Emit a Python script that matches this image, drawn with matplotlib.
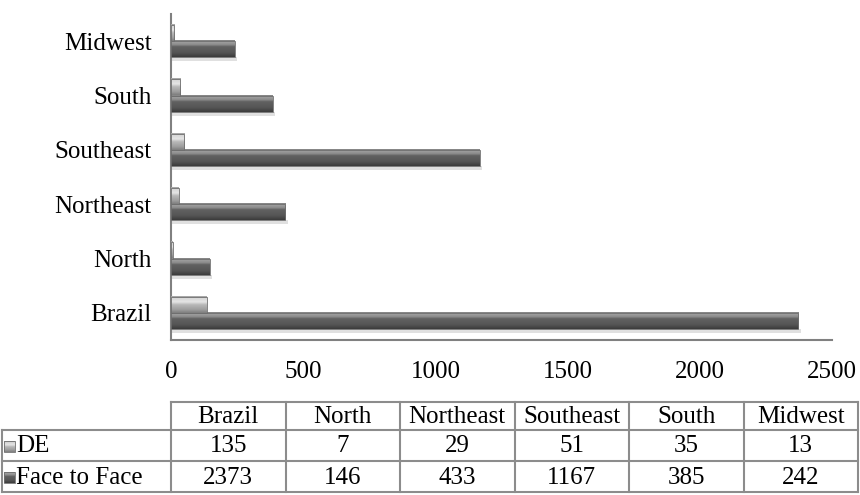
"""Face-to-face vs DE enrolments by region: 3D-style bars with a data table."""

import matplotlib

matplotlib.use("Agg")
import matplotlib.pyplot as plt  # noqa: E402
import numpy as np  # noqa: E402
from matplotlib.colors import LinearSegmentedColormap  # noqa: E402
from matplotlib.patches import Rectangle  # noqa: E402

# --- Data ---------------------------------------------------------------

regions = ["Brazil", "North", "Northeast", "Southeast", "South", "Midwest"]
de_values = [135, 7, 29, 51, 35, 13]
ftf_values = [2373, 146, 433, 1167, 385, 242]
series_names = ["DE", "Face to Face"]
x_ticks = [0, 500, 1000, 1500, 2000, 2500]

plt.rcParams["font.family"] = ["Liberation Serif", "DejaVu Serif"]
FS = 18
EDGE = "#8c8c8c"

# Vertical shading, top of bar -> bottom of bar
ftf_cmap = LinearSegmentedColormap.from_list(
    "ftf",
    [(0.0, "#7c7c7c"), (0.08, "#a2a2a2"), (0.28, "#8a8a8a"), (0.38, "#626262"),
     (0.75, "#555555"), (0.92, "#444444"), (1.0, "#3a3a3a")],
)
de_cmap = LinearSegmentedColormap.from_list(
    "de",
    [(0.0, "#9a9a9a"), (0.1, "#d6d6d6"), (0.35, "#e4e4e4"), (0.5, "#b9b9b9"),
     (0.8, "#9e9e9e"), (1.0, "#7e7e7e")],
)
grad = np.linspace(0, 1, 64).reshape(-1, 1)

W, H = 860, 495
fig = plt.figure(figsize=(W / 100, H / 100), dpi=100)


def px_axes(left, top, right, bottom):
    return fig.add_axes([left / W, 1 - bottom / H, (right - left) / W, (bottom - top) / H])


ax = px_axes(171, 14, 832, 340)

y = np.arange(len(regions))
bar_h = 0.3


def shaded_bars(centers, values, cmap):
    bars = ax.barh(centers, values, height=bar_h, color="none", edgecolor="none", zorder=3)
    for b in bars:
        x0, y0, w, h = b.get_x(), b.get_y(), b.get_width(), b.get_height()
        # soft drop shadow under the bar
        ax.add_patch(Rectangle((x0, y0 - 0.07), w + 8, 0.07, color="#d9d9d9",
                               alpha=0.8, lw=0, zorder=2))
        ax.imshow(grad, cmap=cmap, extent=(x0, x0 + w, y0, y0 + h), origin="upper",
                  aspect="auto", interpolation="bilinear", zorder=3)
        ax.add_patch(Rectangle((x0, y0), w, h, fill=False, edgecolor="#6e6e6e",
                               lw=0.6, zorder=4))


shaded_bars(y - bar_h / 2, ftf_values, ftf_cmap)
shaded_bars(y + bar_h / 2, de_values, de_cmap)

ax.set_xlim(0, 2500)
ax.set_ylim(-0.5, len(regions) - 0.5)
ax.set_xticks(x_ticks)
ax.set_yticks(y)
ax.set_yticklabels(regions)
ax.tick_params(axis="both", length=0, labelsize=FS)
ax.tick_params(axis="y", pad=14)
ax.tick_params(axis="x", pad=15)
for side in ("top", "right"):
    ax.spines[side].set_visible(False)
for side in ("left", "bottom"):
    ax.spines[side].set_color("#808080")
    ax.spines[side].set_linewidth(1.5)

# --- Data table below the chart ------------------------------------------

tab = px_axes(0, 0, W, H)
tab.set_xlim(0, W)
tab.set_ylim(H, 0)
tab.axis("off")

col_left, col_right = 171, 858
row_label_left = 2
row_edges = [402, 430, 461, 492]
col_w = (col_right - col_left) / len(regions)
lw = 1.5

# header row (no corner cell)
tab.plot([col_left, col_right], [row_edges[0]] * 2, color=EDGE, lw=lw)
for r in row_edges[1:]:
    tab.plot([row_label_left, col_right], [r, r], color=EDGE, lw=lw)
tab.plot([row_label_left] * 2, [row_edges[1], row_edges[3]], color=EDGE, lw=lw)
for i in range(len(regions) + 1):
    xe = col_left + i * col_w
    tab.plot([xe, xe], [row_edges[0], row_edges[3]], color=EDGE, lw=lw)

for i, name in enumerate(regions):
    xc = col_left + (i + 0.5) * col_w
    tab.text(xc, (row_edges[0] + row_edges[1]) / 2 + 1, name, ha="center", va="center",
             fontsize=FS)
    tab.text(xc, (row_edges[1] + row_edges[2]) / 2 + 1, str(de_values[i]), ha="center",
             va="center", fontsize=FS)
    tab.text(xc, (row_edges[2] + row_edges[3]) / 2 + 1, str(ftf_values[i]), ha="center",
             va="center", fontsize=FS)

for k, (name, cmap) in enumerate(zip(series_names, [de_cmap, ftf_cmap])):
    yc = (row_edges[k + 1] + row_edges[k + 2]) / 2 + 1
    tab.imshow(grad, cmap=cmap, extent=(4, 15, yc + 5.5, yc - 5.5), origin="upper",
               aspect="auto", interpolation="bilinear")
    tab.add_patch(Rectangle((4, yc - 5.5), 11, 11, fill=False, edgecolor="#6e6e6e", lw=0.6))
    tab.text(16, yc, name, ha="left", va="center", fontsize=FS)

tab.set_xlim(0, W)
tab.set_ylim(H, 0)

fig.savefig("out.png", dpi=100)
